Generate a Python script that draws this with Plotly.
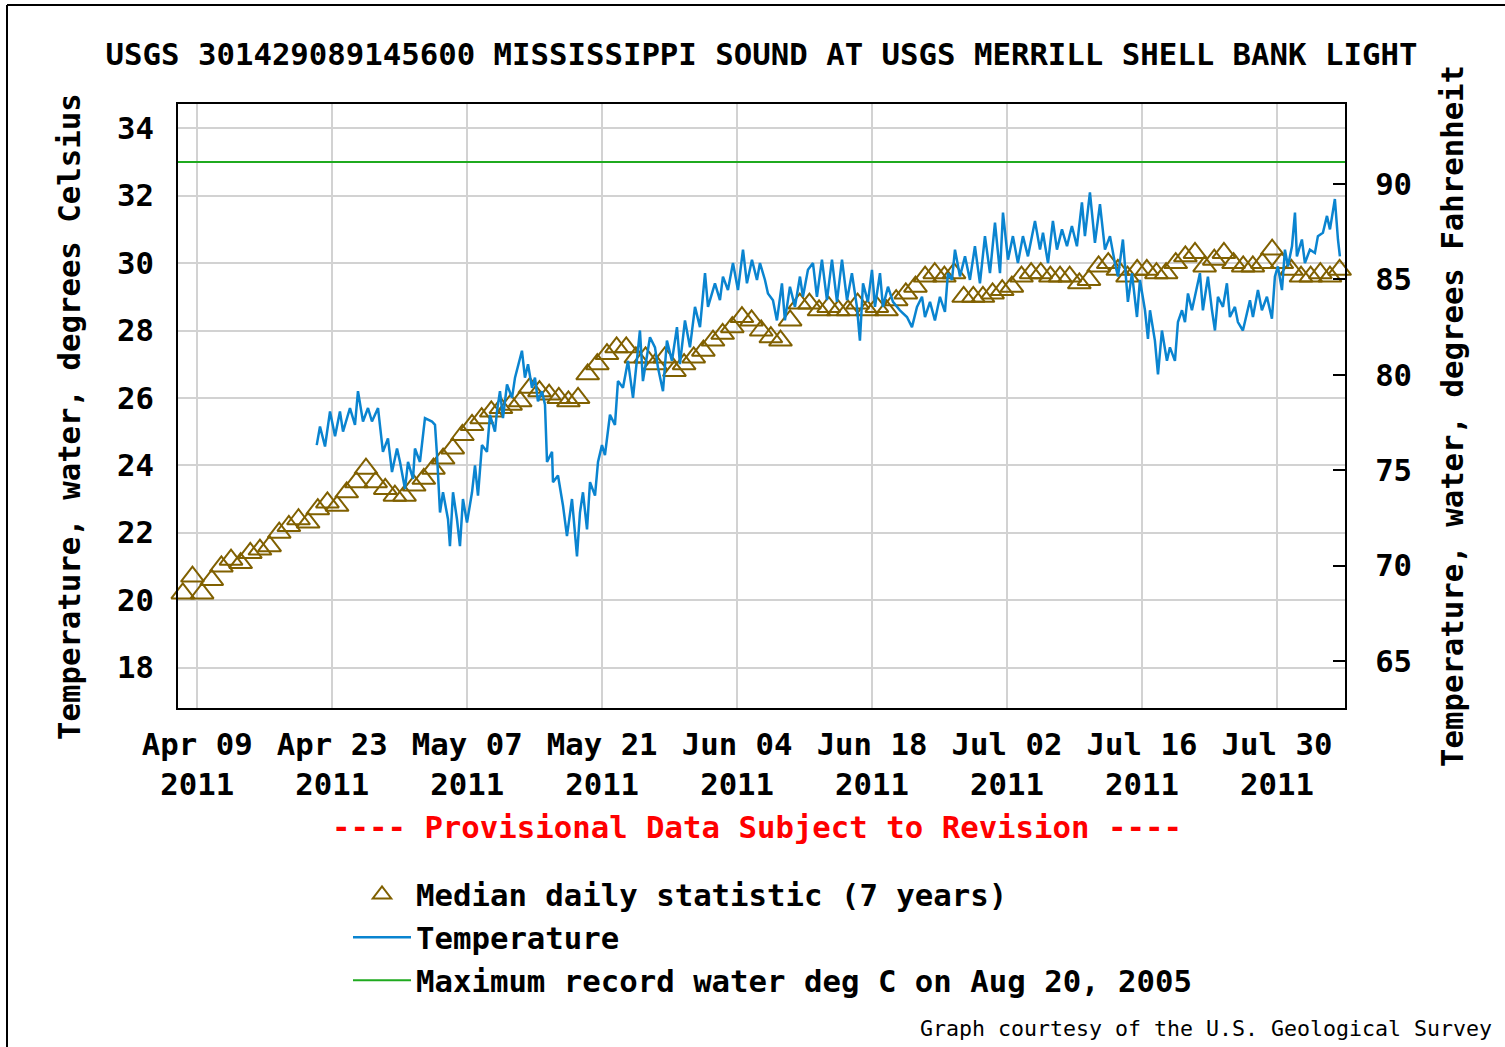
import pandas as pd
import plotly.graph_objects as go

# ---------------- data ----------------
START = pd.Timestamp("2011-04-07")

# Median daily statistic (7 years), deg C, one value per day from Apr 07 2011
median_c = [
    # Apr 07 - Apr 30
    20.2, 20.7, 20.2, 20.6, 21.0, 21.2, 21.1, 21.4, 21.5, 21.6, 22.0, 22.2,
    22.4, 22.3, 22.7, 22.9, 22.8, 23.2, 23.5, 23.9, 23.5, 23.3, 23.1, 23.1,
    # May
    23.4, 23.6, 23.9, 24.2, 24.5, 24.9, 25.2, 25.4, 25.6, 25.7, 25.8, 25.9,
    26.3, 26.2, 26.1, 26.0, 25.9, 26.0, 26.7, 27.0, 27.3, 27.5, 27.5, 27.2,
    27.2, 27.0, 27.2, 26.8, 27.0, 27.2, 27.4,
    # Jun
    27.7, 27.9, 28.1, 28.4, 28.3, 28.0, 27.8, 27.7, 28.3, 28.8, 28.8, 28.6,
    28.7, 28.6, 28.6, 28.8, 28.6, 28.7, 28.6, 28.9, 29.1, 29.3, 29.6, 29.7,
    29.6, 29.7, 29.0, 29.0, 29.0, 29.1,
    # Jul
    29.2, 29.3, 29.6, 29.7, 29.7, 29.6, 29.6, 29.6, 29.4, 29.5, 29.9, 30.0,
    29.8, 29.6, 29.8, 29.8, 29.7, 29.7, 30.0, 30.2, 30.3, 29.9, 30.1, 30.3,
    30.0, 29.9, 29.9, 30.0, 30.4, 30.0, 29.8,
    # Aug 01 - Aug 06
    29.6, 29.6, 29.7, 29.6, 29.8, 29.7,
]

# Instantaneous temperature: time in days since 2011-04-07 00:00, value deg C
temp_day = [
    14.39, 14.73, 15.25, 15.77, 16.29, 16.80, 17.12, 17.84, 18.36, 18.67,
    19.19, 19.71, 20.12, 20.75, 21.26, 21.78, 22.20, 22.72,
    23.03, 23.55, 23.86, 24.38, 24.58, 25.10, 25.62, 26.35, 26.66, 26.87,
    27.18, 27.49, 28.01, 28.21, 28.53, 28.94, 29.25, 29.56, 29.98, 30.50,
    30.81, 31.12, 31.53, 32.05, 32.36, 32.88, 33.09, 33.40, 33.71, 34.13,
    34.65, 34.96, 35.68, 35.99, 36.31, 36.72, 37.03, 37.34, 37.76, 38.07,
    38.28, 38.80, 38.90, 39.42, 39.94, 40.35, 40.87, 41.18, 41.39, 41.70,
    42.01, 42.43, 42.74, 43.26, 43.57, 43.98, 44.29,
    44.81, 45.33, 45.64, 46.16, 46.68, 47.20, 47.92, 48.23, 48.96, 49.48,
    49.79, 50.31, 50.72, 51.24, 51.76, 52.07, 52.59, 53.11, 53.63, 54.15,
    54.67, 54.98, 55.70, 56.22, 56.53, 57.05, 57.57, 58.09, 58.61, 59.02,
    59.54, 60.06, 60.37, 60.89, 61.20, 61.72, 62.13, 62.65, 62.96, 63.48,
    64.00, 64.52,
    64.83, 65.35, 65.87, 66.28, 66.80, 67.32, 67.84, 68.36, 68.88, 69.40,
    69.91, 70.43, 70.74, 71.06, 71.57, 71.99, 72.30, 72.82, 73.13, 73.65,
    74.17, 74.89, 75.62, 76.14, 76.66, 77.18, 77.49, 78.01, 78.52, 79.04,
    79.56, 79.87, 80.29, 80.60, 81.12, 81.64, 82.15, 82.67, 83.19, 83.71,
    84.23, 84.75, 85.27,
    85.58, 86.10, 86.61, 87.13, 87.65, 88.17, 88.90, 89.42, 89.73, 90.25,
    90.76, 91.18, 91.70, 92.22, 92.73, 93.25, 93.77, 94.08, 94.60, 95.12,
    95.64, 96.16, 96.68, 97.19, 97.51, 98.02, 98.54, 98.96, 99.48, 99.79,
    100.31, 100.62,
    100.83, 101.34, 101.66, 102.07, 102.59, 102.90, 103.42, 103.73, 104.15,
    104.46, 104.77, 105.18, 105.70, 106.01, 106.32, 106.84, 107.26, 107.57,
    107.88, 108.40, 108.81, 109.12, 109.64, 109.95, 110.47, 110.89, 111.20,
    111.51, 112.03, 112.44, 112.96, 113.48, 113.79, 114.10, 114.52, 114.83,
    115.14, 115.56, 115.87, 116.07, 116.59, 116.90, 117.42, 117.94, 118.25,
    118.77, 119.19, 119.50, 120.01, 120.33, 120.53,
]
temp_c = [
    24.6, 25.15, 24.56, 25.6, 24.86, 25.6, 25.0, 25.7, 25.2, 26.2,
    25.3, 25.7, 25.3, 25.7, 24.4, 24.8, 23.8, 24.5,
    24.1, 23.3, 24.1, 23.6, 24.5, 24.1, 25.4, 25.3, 25.2, 24.3,
    22.6, 23.2, 22.4, 21.6, 23.2, 22.4, 21.6, 23.0, 22.3, 23.2,
    24.0, 23.1, 24.6, 24.4, 25.5, 25.0, 25.6, 26.2, 25.4, 26.4,
    26.0, 26.6, 27.4, 26.6, 27.0, 26.3, 26.6, 25.9, 26.2, 25.8,
    24.1, 24.4, 23.5, 23.7, 22.8, 21.9, 23.0, 22.1, 21.3, 22.6,
    23.2, 22.1, 23.5, 23.1, 24.1, 24.6, 24.3,
    25.5, 25.2, 26.5, 26.3, 27.1, 26.0, 28.0, 26.5, 27.8, 27.5,
    26.9, 26.2, 27.7, 27.1, 28.1, 27.0, 28.3, 27.5, 28.7, 28.1,
    29.7, 28.7, 29.4, 28.9, 29.6, 29.2, 30.0, 29.2, 30.4, 29.4,
    30.1, 29.5, 30.0, 29.5, 29.1, 28.9, 28.3, 29.4, 28.3, 29.3,
    28.7, 29.6,
    29.0, 29.8, 30.0, 29.0, 30.1, 28.9, 30.1, 28.85, 30.1, 28.9,
    29.7, 28.7, 27.7, 29.4, 28.85, 29.8, 28.7, 29.7, 28.7, 29.3,
    28.85, 28.6, 28.4, 28.1, 28.7, 29.0, 28.4, 28.85, 28.3, 29.0,
    28.55, 29.7, 29.5, 30.4, 29.6, 30.2, 29.5, 30.5, 29.4, 30.8,
    29.7, 31.2, 29.7,
    31.5, 30.1, 30.8, 30.0, 30.8, 30.2, 31.25, 30.4, 30.9, 30.0,
    31.25, 30.4, 31.0, 30.5, 31.1, 30.5, 31.8, 30.8, 32.1, 30.6,
    31.75, 30.4, 30.8, 30.0, 29.6, 30.7, 28.85, 29.7, 28.4, 29.5,
    28.6, 27.75,
    28.6, 27.7, 26.7, 28.0, 27.1, 27.5, 27.1, 28.25, 28.6,
    28.25, 29.1, 28.6, 29.3, 29.7, 28.6, 29.6, 28.6, 28.0,
    29.0, 28.7, 29.4, 28.4, 28.7, 28.25, 28.0, 28.55, 28.9,
    28.4, 29.2, 28.6, 29.0, 28.35, 29.6, 29.9, 29.2, 30.4,
    29.9, 30.5, 31.5, 30.2, 30.7, 30.0, 30.4, 30.3, 30.8,
    30.9, 31.4, 31.0, 31.9, 30.7, 30.2,
]

max_record_c = 33.0

tick_dates = ["2011-04-09", "2011-04-23", "2011-05-07", "2011-05-21", "2011-06-04",
              "2011-06-18", "2011-07-02", "2011-07-16", "2011-07-30"]
tick_text = ["Apr 09<br>2011", "Apr 23<br>2011", "May 07<br>2011", "May 21<br>2011",
             "Jun 04<br>2011", "Jun 18<br>2011", "Jul 02<br>2011", "Jul 16<br>2011",
             "Jul 30<br>2011"]
c_ticks = [18, 20, 22, 24, 26, 28, 30, 32, 34]
f_ticks = [65, 70, 75, 80, 85, 90]

x_start = START
x_end = START + pd.Timedelta(days=121.06)
c_range = [16.80, 34.72]
f_range = [62.54, 94.19]

# ---------------- figure ----------------
FONT = "DejaVu Sans Mono"
FS = 30.7
BROWN = "#806000"
BLUE = "#0A84D0"
GREEN = "#1FAA1F"
GRID = "#d2d2d2"

# plot-area geometry in pixels (used only for placing the annotations)
L, R, T, B = 178, 1345, 104, 708
PW, PH = R - L, B - T


def px(x):
    return (x - L) / PW


def py(y):
    return (B - y) / PH


median_time = [START + pd.Timedelta(days=i, hours=12) for i in range(len(median_c))]
temp_time = [START + pd.Timedelta(days=d) for d in temp_day]

fig = go.Figure()
fig.add_trace(go.Scatter(
    x=median_time, y=median_c, mode="markers", name="Median daily statistic (7 years)",
    marker=dict(symbol="triangle-up-open", size=20, color=BROWN, line=dict(width=2, color=BROWN)),
    cliponaxis=False, legendgroup="a",
))
fig.add_trace(go.Scatter(
    x=temp_time, y=temp_c, mode="lines", name="Temperature",
    line=dict(color=BLUE, width=2.5), legendgroup="b",
))
fig.add_trace(go.Scatter(
    x=[x_start, x_end], y=[max_record_c, max_record_c], mode="lines",
    name="Maximum record water deg C on Aug 20, 2005",
    line=dict(color=GREEN, width=2), legendgroup="c",
))
# carrier for the Fahrenheit axis
fig.add_trace(go.Scatter(
    x=[x_start, x_end], y=[max_record_c * 9 / 5 + 32] * 2, mode="lines", yaxis="y2",
    line=dict(width=0), opacity=0, showlegend=False, hoverinfo="skip",
))

fig.update_layout(
    width=1505, height=1047,
    margin=dict(l=L, r=1505 - R, t=T, b=1047 - B),
    paper_bgcolor="white", plot_bgcolor="white",
    font=dict(family=FONT, size=FS, color="black", weight="bold"),
    title=dict(
        text="USGS 301429089145600 MISSISSIPPI SOUND AT USGS MERRILL SHELL BANK LIGHT",
        x=0.5, xref="paper", xanchor="center", y=1 - 54 / 1047, yanchor="middle",
        font=dict(family=FONT, size=FS, color="black", weight="bold"),
    ),
    xaxis=dict(
        type="date", range=[x_start, x_end], tickvals=tick_dates, ticktext=tick_text,
        showgrid=True, gridcolor=GRID, gridwidth=2, zeroline=False,
        showline=True, linecolor="black", linewidth=2, mirror=True,
        ticks="", ticklabelstandoff=8,
        tickfont=dict(family=FONT, size=FS, weight="bold"),
    ),
    yaxis=dict(
        range=c_range, tickvals=c_ticks, showgrid=True, gridcolor=GRID, gridwidth=2,
        zeroline=False, showline=True, linecolor="black", linewidth=2, mirror=True,
        ticks="", ticklabelstandoff=16,
        tickfont=dict(family=FONT, size=FS, weight="bold"),
    ),
    yaxis2=dict(
        overlaying="y", side="right", range=f_range, tickvals=f_ticks,
        showgrid=False, zeroline=False, showline=True, linecolor="black", linewidth=2,
        ticks="inside", ticklen=12, tickwidth=2, tickcolor="black", ticklabelstandoff=22,
        tickfont=dict(family=FONT, size=FS, weight="bold"),
    ),
    legend=dict(
        x=px(348), y=py(868), xanchor="left", yanchor="top", orientation="v",
        bgcolor="rgba(0,0,0,0)", itemwidth=58, tracegroupgap=0,
        font=dict(family=FONT, size=FS, weight="bold"), traceorder="grouped",
    ),
    showlegend=True,
    hovermode=False,
)

# axis titles
fig.add_annotation(
    text="Temperature, water, degrees Celsius", textangle=-90,
    xref="paper", yref="paper", x=px(70), y=py(417), xanchor="center", yanchor="middle",
    showarrow=False, font=dict(family=FONT, size=FS, color="black", weight="bold"),
)
fig.add_annotation(
    text="Temperature, water, degrees Fahrenheit", textangle=-90,
    xref="paper", yref="paper", x=px(1452), y=py(416), xanchor="center", yanchor="middle",
    showarrow=False, font=dict(family=FONT, size=FS, color="black", weight="bold"),
)
fig.add_annotation(
    text="---- Provisional Data Subject to Revision ----",
    xref="paper", yref="paper", x=px(757), y=py(828), xanchor="center", yanchor="middle",
    showarrow=False, font=dict(family=FONT, size=FS, color="#FF0000", weight="bold"),
)
fig.add_annotation(
    text="Graph courtesy of the U.S. Geological Survey",
    xref="paper", yref="paper", x=px(1494), y=py(1028),
    xanchor="right", yanchor="middle", showarrow=False,
    font=dict(family=FONT, size=21.6, color="black", weight="normal"),
)
# outer frame of the image (top and left edges visible)
fig.add_shape(type="line", xref="paper", yref="paper",
              x0=px(7), x1=px(1510), y0=py(5), y1=py(5),
              line=dict(color="black", width=2))
fig.add_shape(type="line", xref="paper", yref="paper",
              x0=px(7), x1=px(7), y0=py(5), y1=py(1050),
              line=dict(color="black", width=2))

fig.write_html("out.html", config={"displayModeBar": False})

# remove the browser's default page margin so the figure sits at (0, 0)
with open("out.html", "r", encoding="utf-8") as fh:
    html = fh.read()
html = html.replace("<head>", "<head><style>html,body{margin:0;padding:0;}</style>", 1)
with open("out.html", "w", encoding="utf-8") as fh:
    fh.write(html)
